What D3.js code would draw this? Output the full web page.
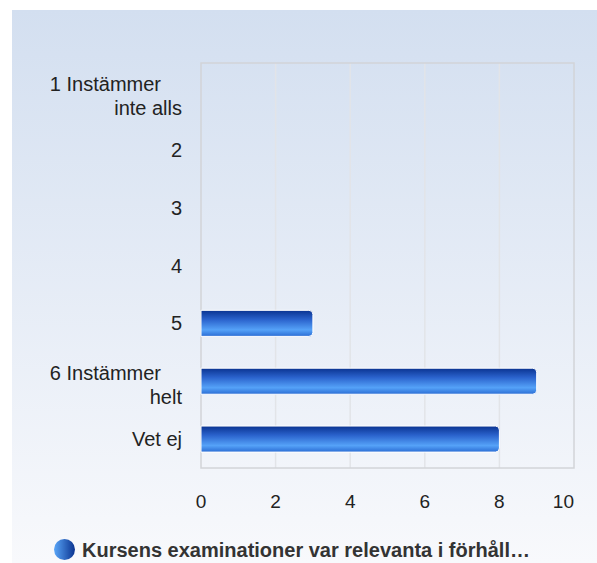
<!DOCTYPE html>
<html>
<head>
<meta charset="utf-8">
<script src="https://cdn.jsdelivr.net/npm/d3@7"></script>
<style>
  body { margin: 0; background: #fff; }
  svg { display: block; font-family: "Liberation Sans", Arial, sans-serif; }
</style>
</head>
<body>
<script>
// chart data
var categories = ["1 Instämmer inte alls", "2", "3", "4", "5", "6 Instämmer helt", "Vet ej"];
var labelLines = [["1 Instämmer", "inte alls"], ["2"], ["3"], ["4"], ["5"], ["6 Instämmer", "helt"], ["Vet ej"]];
var counts = [0, 0, 0, 0, 3, 9, 8];
var xTicks = [0, 2, 4, 6, 8, 10];
var seriesName = "Kursens examinationer var relevanta i förhåll…";

var width = 597, height = 563;
var margin = {top: 63, right: 23, bottom: 95, left: 201};

var x = d3.scaleLinear()
    .domain([0, 10])
    .range([margin.left, width - margin.right]);

var y = d3.scaleBand()
    .domain(categories)
    .range([margin.top, height - margin.bottom])
    .paddingInner(0.55)
    .paddingOuter(0.275);

const svg = d3.select("body").append("svg")
    .attr("width", width)
    .attr("height", height);

var defs = svg.append("defs");
var bg = defs.append("linearGradient").attr("id", "bg")
    .attr("x1", 0).attr("y1", 0).attr("x2", 0).attr("y2", 1);
bg.append("stop").attr("offset", "0%").attr("stop-color", "#d3dff0");
bg.append("stop").attr("offset", "100%").attr("stop-color", "#f8f9fc");

var bar = defs.append("linearGradient").attr("id", "bar")
    .attr("x1", 0).attr("y1", 0).attr("x2", 0).attr("y2", 1);
bar.append("stop").attr("offset", "0%").attr("stop-color", "#0a3390");
bar.append("stop").attr("offset", "35%").attr("stop-color", "#2a62cc");
bar.append("stop").attr("offset", "75%").attr("stop-color", "#55a2f8");
bar.append("stop").attr("offset", "100%").attr("stop-color", "#2a6cd4");

var dot = defs.append("linearGradient").attr("id", "dot")
    .attr("x1", 0).attr("y1", 0).attr("x2", 1).attr("y2", 0);
dot.append("stop").attr("offset", "0%").attr("stop-color", "#5aa6f8");
dot.append("stop").attr("offset", "100%").attr("stop-color", "#0a3390");

// background panel
svg.append("rect")
    .attr("x", 12).attr("y", 10)
    .attr("width", width - 12).attr("height", height - 10)
    .attr("fill", "url(#bg)");

// grid lines
svg.append("g")
    .selectAll("line")
    .data(xTicks.slice(1, -1))
    .enter().append("line")
      .attr("x1", d => x(d)).attr("x2", d => x(d))
      .attr("y1", margin.top).attr("y2", height - margin.bottom)
      .attr("stroke", "#e2e4e8")
      .attr("stroke-width", 1.5);

// plot frame
svg.append("rect")
    .attr("x", margin.left).attr("y", margin.top)
    .attr("width", x(10) - margin.left)
    .attr("height", height - margin.bottom - margin.top)
    .attr("fill", "none")
    .attr("stroke", "#d2d4d8")
    .attr("stroke-width", 1.5);

// bars
var data = categories.map((c, i) => ({cat: c, value: counts[i]}));
svg.append("g")
    .selectAll("path")
    .data(data.filter(d => d.value > 0))
    .enter().append("path")
      .attr("d", d => {
        var x0 = x(0), x1 = x(d.value), y0 = y(d.cat), h = y.bandwidth(), r = 4;
        return "M" + x0 + "," + y0 + "H" + (x1 - r) + "Q" + x1 + "," + y0 + " " + x1 + "," + (y0 + r) +
          "V" + (y0 + h - r) + "Q" + x1 + "," + (y0 + h) + " " + (x1 - r) + "," + (y0 + h) + "H" + x0 + "Z";
      })
      .attr("fill", "url(#bar)")
      .attr("stroke", "#ffffff")
      .attr("stroke-width", 1);

// y labels (two-line labels: first line sits a bit left of the rest)
var yl = svg.append("g")
    .selectAll("text")
    .data(categories)
    .enter().append("text")
      .attr("text-anchor", "end")
      .attr("font-size", 20)
      .attr("fill", "#222");
yl.each(function (d, i) {
  var lines = labelLines[i];
  var cy = y(d) + y.bandwidth() / 2;
  var multi = lines.length > 1;
  d3.select(this).selectAll("tspan")
    .data(lines)
    .enter().append("tspan")
      .attr("x", (l, j) => multi && j === 0 ? 161 : 182)
      .attr("y", (l, j) => multi ? cy - 1 + j * 24 : cy + 7)
      .text(l => l);
});

// x axis labels
svg.append("g")
    .selectAll("text")
    .data(xTicks)
    .enter().append("text")
      .attr("x", d => x(d))
      .attr("y", 508)
      .attr("text-anchor", (d, i) => i === xTicks.length - 1 ? "end" : "middle")
      .attr("font-size", 19)
      .attr("fill", "#222")
      .text(d => d);

// legend
svg.append("circle")
    .attr("cx", 64.5).attr("cy", 549.5).attr("r", 10.5)
    .attr("fill", "url(#dot)");
svg.append("text")
    .attr("x", 82).attr("y", 557)
    .attr("font-size", 20)
    .attr("font-weight", "bold")
    .attr("fill", "#333")
    .text(seriesName);
</script>
</body>
</html>
